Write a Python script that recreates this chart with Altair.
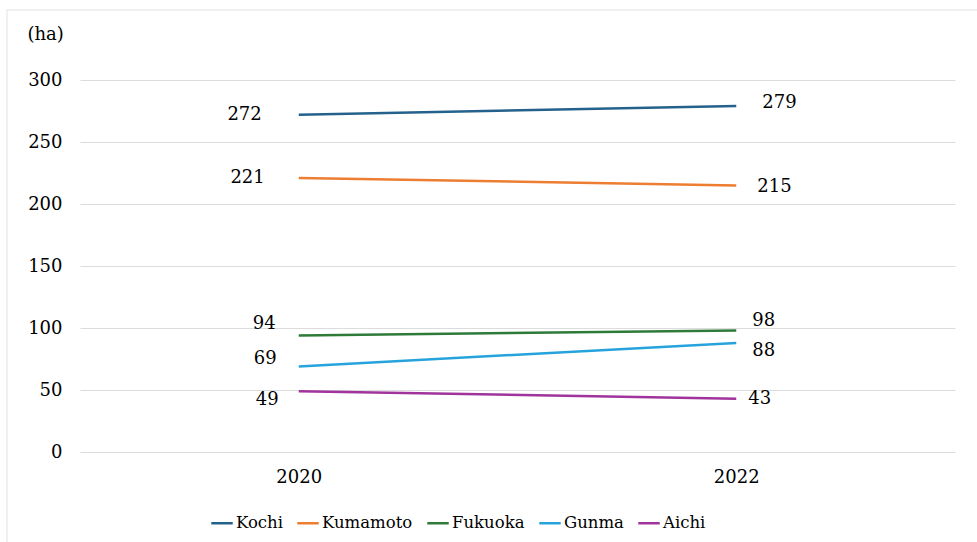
import altair as alt
import pandas as pd

# ---- data ----
prefectures = ["Kochi", "Kumamoto", "Fukuoka", "Gunma", "Aichi"]
years = [2020, 2022]
values_2020 = [272, 221, 94, 69, 49]
values_2022 = [279, 215, 98, 88, 43]
colors = ["#24618c", "#ed7d31", "#2e7a38", "#27a3dc", "#a0349c"]

# ---- label placement (pixel offsets, style only) ----
label_dx_2020 = [-37, -34, -23, -22, -20]
label_dy_2020 = [0, 0, -11, -7, 9]
label_dx_2022 = [26, 21, 16, 16, 12]
label_dy_2022 = [-3, 2, -9, 8, 0]

W, H = 875, 372
PX_PER_YEAR = W / 4.0
PX_PER_UNIT = H / 300.0

rows = []
labels = []
for i, p in enumerate(prefectures):
    for yr, vals, dxs, dys, al in [
        (2020, values_2020, label_dx_2020, label_dy_2020, "right"),
        (2022, values_2022, label_dx_2022, label_dy_2022, "left"),
    ]:
        rows.append({"pref": p, "year": yr, "value": vals[i]})
        labels.append({
            "pref": p,
            "text": str(vals[i]),
            "lx": yr + dxs[i] / PX_PER_YEAR,
            "ly": vals[i] - dys[i] / PX_PER_UNIT,
            "side": al,
        })
df = pd.DataFrame(rows)
ldf = pd.DataFrame(labels)

FONT = "DejaVu Serif"

xscale = alt.Scale(domain=[2019, 2023], nice=False, zero=False)
yscale = alt.Scale(domain=[0, 300], nice=False)
color = alt.Color(
    "pref:N",
    scale=alt.Scale(domain=prefectures, range=colors),
    legend=alt.Legend(
        title=None, orient="none", direction="horizontal",
        legendX=130, legendY=431,
        symbolType="stroke", symbolSize=460, symbolStrokeWidth=2.5,
        labelFont=FONT, labelFontSize=16.5, labelColor="#000000",
        labelOffset=2, columnPadding=9, symbolOffset=0,
    ),
)

border = alt.Chart(pd.DataFrame({"a": [0]})).mark_rect(
    fill=None, stroke="#ececec", strokeWidth=1.5
).encode(
    x=alt.value(-73), x2=alt.value(W + 120), y=alt.value(-70), y2=alt.value(H + 120)
)

lines = alt.Chart(df).mark_line(strokeWidth=2.5).encode(
    x=alt.X("year:Q", scale=xscale, axis=alt.Axis(
        values=years, format="d", title=None, domain=False, ticks=False,
        grid=False, labelPadding=16,
    )),
    y=alt.Y("value:Q", scale=yscale, axis=alt.Axis(
        values=[0, 50, 100, 150, 200, 250, 300], domain=False, ticks=False,
        gridColor="#dcdcdc", gridWidth=1.2, labelPadding=18,
        title="(ha)", titleAngle=0, titleAlign="left",
        titleX=-53, titleY=-46, titleBaseline="middle",
    )),
    color=color,
    detail="pref:N",
)

left_labels = alt.Chart(ldf).transform_filter(alt.datum.side == "right").mark_text(
    align="right", baseline="middle", fontSize=18, color="#000000"
).encode(x=alt.X("lx:Q", scale=xscale), y=alt.Y("ly:Q", scale=yscale), text="text:N")

right_labels = alt.Chart(ldf).transform_filter(alt.datum.side == "left").mark_text(
    align="left", baseline="middle", fontSize=18, color="#000000"
).encode(x=alt.X("lx:Q", scale=xscale), y=alt.Y("ly:Q", scale=yscale), text="text:N")

chart = alt.layer(border, lines, left_labels, right_labels).properties(
    width=W, height=H,
    autosize=alt.AutoSizeParams(type="none"),
    padding={"left": 80, "top": 80, "right": 22, "bottom": 90},
    background="#ffffff",
).configure(font=FONT).configure_view(stroke=None).configure_axis(
    labelFont=FONT, labelFontSize=18, labelColor="#000000",
    titleFont=FONT, titleFontSize=18, titleFontWeight="normal", titleColor="#000000",
).configure_text(font=FONT).configure_legend(labelFont=FONT)

chart.save("out.html", embed_options={"renderer": "svg", "actions": False})
